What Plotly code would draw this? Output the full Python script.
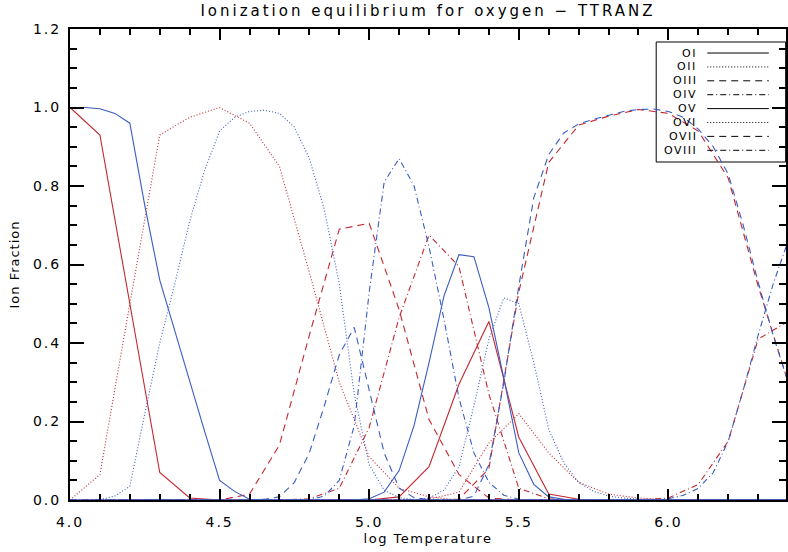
import plotly.graph_objects as go

# ---------------- data ----------------
temp_red = [4.0, 4.1, 4.2, 4.3, 4.4, 4.5, 4.6, 4.7, 4.8, 4.9,
            5.0, 5.1, 5.2, 5.3, 5.4, 5.5, 5.6, 5.7, 5.8, 5.9,
            6.0, 6.1, 6.2, 6.3, 6.4]

red_OI    = [1.0, 0.93, 0.50, 0.07, 0.005, 0, 0, 0, 0, 0,
             0, 0, 0, 0, 0, 0, 0, 0, 0, 0, 0, 0, 0, 0, 0]
red_OII   = [0, 0.065, 0.50, 0.93, 0.975, 1.0, 0.96, 0.85, 0.58, 0.30,
             0.11, 0.03, 0.008, 0, 0, 0, 0, 0, 0, 0, 0, 0, 0, 0, 0]
red_OIII  = [0, 0, 0, 0, 0, 0, 0.015, 0.14, 0.42, 0.69,
             0.705, 0.485, 0.205, 0.065, 0.005, 0, 0, 0, 0, 0, 0, 0, 0, 0, 0]
red_OIV   = [0, 0, 0, 0, 0, 0, 0, 0, 0.003, 0.03,
             0.185, 0.465, 0.675, 0.595, 0.27, 0.03, 0.003, 0, 0, 0, 0, 0, 0, 0, 0]
red_OV    = [0, 0, 0, 0, 0, 0, 0, 0, 0, 0,
             0, 0.008, 0.085, 0.295, 0.455, 0.16, 0.015, 0.002, 0, 0, 0, 0, 0, 0, 0]
red_OVI   = [0, 0, 0, 0, 0, 0, 0, 0, 0, 0,
             0, 0, 0.002, 0.02, 0.145, 0.22, 0.12, 0.045, 0.015, 0.005, 0.001, 0, 0, 0, 0]
red_OVII  = [0, 0, 0, 0, 0, 0, 0, 0, 0, 0,
             0, 0, 0, 0.002, 0.08, 0.53, 0.86, 0.955, 0.978, 0.995, 0.985, 0.94, 0.82, 0.545, 0.30]
red_OVIII = [0, 0, 0, 0, 0, 0, 0, 0, 0, 0,
             0, 0, 0, 0, 0, 0, 0, 0, 0, 0, 0.005, 0.04, 0.15, 0.41, 0.455]

temp_blue = [4.00, 4.05, 4.10, 4.15, 4.20, 4.25, 4.30, 4.35, 4.40, 4.45,
             4.50, 4.55, 4.60, 4.65, 4.70, 4.75, 4.80, 4.85, 4.90, 4.95,
             5.00, 5.05, 5.10, 5.15, 5.20, 5.25, 5.30, 5.35, 5.40, 5.45,
             5.50, 5.55, 5.60, 5.65, 5.70, 5.75, 5.80, 5.85, 5.90, 5.95,
             6.00, 6.05, 6.10, 6.15, 6.20, 6.25, 6.30, 6.35, 6.40]

blue_OI    = [1.0, 1.0, 0.997, 0.985, 0.96, 0.75, 0.56, 0.43, 0.30, 0.175,
              0.05, 0.022, 0.002, 0, 0, 0, 0, 0, 0, 0,
              0, 0, 0, 0, 0, 0, 0, 0, 0, 0,
              0, 0, 0, 0, 0, 0, 0, 0, 0, 0,
              0, 0, 0, 0, 0, 0, 0, 0, 0]
blue_OII   = [0, 0, 0.001, 0.01, 0.035, 0.22, 0.40, 0.55, 0.71, 0.84,
              0.94, 0.975, 0.99, 0.993, 0.985, 0.95, 0.87, 0.74, 0.55, 0.27,
              0.09, 0.025, 0.006, 0.001, 0, 0, 0, 0, 0, 0,
              0, 0, 0, 0, 0, 0, 0, 0, 0, 0,
              0, 0, 0, 0, 0, 0, 0, 0, 0]
blue_OIII  = [0, 0, 0, 0, 0, 0, 0, 0, 0, 0,
              0, 0, 0, 0.002, 0.008, 0.045, 0.12, 0.24, 0.37, 0.44,
              0.28, 0.12, 0.03, 0.006, 0.001, 0, 0, 0, 0, 0,
              0, 0, 0, 0, 0, 0, 0, 0, 0, 0,
              0, 0, 0, 0, 0, 0, 0, 0, 0]
blue_OIV   = [0, 0, 0, 0, 0, 0, 0, 0, 0, 0,
              0, 0, 0, 0, 0, 0, 0, 0.01, 0.05, 0.19,
              0.53, 0.81, 0.87, 0.80, 0.645, 0.46, 0.26, 0.12, 0.045, 0.012,
              0.002, 0, 0, 0, 0, 0, 0, 0, 0, 0,
              0, 0, 0, 0, 0, 0, 0, 0, 0]
blue_OV    = [0, 0, 0, 0, 0, 0, 0, 0, 0, 0,
              0, 0, 0, 0, 0, 0, 0, 0, 0, 0,
              0.003, 0.02, 0.075, 0.19, 0.35, 0.52, 0.625, 0.62, 0.49, 0.31,
              0.12, 0.04, 0.008, 0.002, 0, 0, 0, 0, 0, 0,
              0, 0, 0, 0, 0, 0, 0, 0, 0]
blue_OVI   = [0, 0, 0, 0, 0, 0, 0, 0, 0, 0,
              0, 0, 0, 0, 0, 0, 0, 0, 0, 0,
              0, 0, 0, 0, 0.005, 0.025, 0.085, 0.24, 0.41, 0.515,
              0.50, 0.35, 0.18, 0.095, 0.045, 0.022, 0.01, 0.005, 0.002, 0.001,
              0, 0, 0, 0, 0, 0, 0, 0, 0]
blue_OVII  = [0, 0, 0, 0, 0, 0, 0, 0, 0, 0,
              0, 0, 0, 0, 0, 0, 0, 0, 0, 0,
              0, 0, 0, 0, 0, 0, 0, 0.01, 0.09, 0.30,
              0.545, 0.77, 0.88, 0.935, 0.958, 0.97, 0.98, 0.99, 0.995, 0.996,
              0.99, 0.975, 0.945, 0.90, 0.83, 0.70, 0.555, 0.42, 0.30]
blue_OVIII = [0, 0, 0, 0, 0, 0, 0, 0, 0, 0,
              0, 0, 0, 0, 0, 0, 0, 0, 0, 0,
              0, 0, 0, 0, 0, 0, 0, 0, 0, 0,
              0, 0, 0, 0, 0, 0, 0, 0, 0, 0,
              0.003, 0.012, 0.03, 0.07, 0.15, 0.28, 0.42, 0.55, 0.66]

ions = ["OI", "OII", "OIII", "OIV", "OV", "OVI", "OVII", "OVIII"]
x_tick_vals = [4.0, 4.5, 5.0, 5.5, 6.0]
x_tick_labels = ["4.0", "4.5", "5.0", "5.5", "6.0"]
y_tick_vals = [0.0, 0.2, 0.4, 0.6, 0.8, 1.0, 1.2]
y_tick_labels = ["0.0", "0.2", "0.4", "0.6", "0.8", "1.0", "1.2"]

# ---------------- styles ----------------
DOT = "1px,2px"
DASH = "7px,5px"
DASHDOT = "6px,3px,1px,3px"
ion_dash = ["solid", DOT, DASH, DASHDOT, "solid", DOT, DASH, DASHDOT]
RED = "#c3262e"
BLUE = "#3a5cc4"
FONT = "DejaVu Sans"

red_series = [red_OI, red_OII, red_OIII, red_OIV, red_OV, red_OVI, red_OVII, red_OVIII]
blue_series = [blue_OI, blue_OII, blue_OIII, blue_OIV, blue_OV, blue_OVI, blue_OVII, blue_OVIII]


def spaced(t, ls):
    return f'<span style="letter-spacing:{ls}px">{t}</span>'


fig = go.Figure()
for name, ys, dash in zip(ions, red_series, ion_dash):
    fig.add_trace(go.Scatter(x=temp_red, y=ys, mode="lines", name=name + " (red)",
                             line=dict(color=RED, width=1.1, dash=dash), showlegend=False))
for name, ys, dash in zip(ions, blue_series, ion_dash):
    fig.add_trace(go.Scatter(x=temp_blue, y=ys, mode="lines", name=name + " (blue)",
                             line=dict(color=BLUE, width=1.1, dash=dash), showlegend=False))

# ---------------- legend drawn as box + annotations + line samples ----------------
L_LEFT, L_RIGHT, L_TOP, L_BOTTOM = 0.8187, 0.9995, 0.9724, 0.7176
row_top, row_step = 0.949, 0.0295
fig.add_shape(type="rect", xref="paper", yref="paper", x0=L_LEFT, x1=L_RIGHT,
              y0=L_BOTTOM, y1=L_TOP, line=dict(color="black", width=1), layer="below")
for i, (name, dash) in enumerate(zip(ions, ion_dash)):
    yy = row_top - i * row_step
    fig.add_annotation(xref="paper", yref="paper", x=0.877, y=yy, text=spaced(name, 1.5),
                       showarrow=False, xanchor="right", yanchor="middle",
                       font=dict(family=FONT, size=11, color="black"),
                       borderpad=0)
    fig.add_shape(type="line", xref="paper", yref="paper", x0=0.890, x1=0.976,
                  y0=yy, y1=yy, line=dict(color="black", width=1, dash=dash))

axis_common = dict(showline=True, linecolor="black", linewidth=2, mirror="ticks",
                   ticks="inside", tickcolor="black", tickwidth=1.5,
                   showgrid=False, zeroline=False,
                   tickfont=dict(family=FONT, size=14, color="black"))

fig.update_layout(
    width=788, height=552,
    margin=dict(l=70, r=0, t=29, b=52),
    paper_bgcolor="white", plot_bgcolor="white",
    title=dict(text=spaced("Ionization equilibrium for oxygen − TTRANZ", 3),
               xref="paper", x=0.5, xanchor="center",
               yref="container", y=1 - 11 / 552, yanchor="middle",
               font=dict(family=FONT, size=15, color="black")),
    xaxis=dict(range=[4.0, 6.393], tickmode="array", tickvals=x_tick_vals,
               ticktext=[spaced(t, 2) for t in x_tick_labels], ticklen=11,
               ticklabelstandoff=8,
               minor=dict(tickmode="linear", tick0=4.0, dtick=0.1, ticks="inside",
                          ticklen=6, tickwidth=1.5, tickcolor="black"),
               title=dict(text=spaced("log Temperature", 1.5), standoff=5,
                          font=dict(family=FONT, size=13, color="black")),
               **axis_common),
    yaxis=dict(range=[0.0, 1.2], tickmode="array", tickvals=y_tick_vals,
               ticktext=[spaced(t, 2) for t in y_tick_labels], ticklen=14,
               ticklabelstandoff=4,
               minor=dict(tickmode="linear", tick0=0.0, dtick=0.05, ticks="inside",
                          ticklen=7, tickwidth=1.5, tickcolor="black"),
               title=dict(text=spaced("Ion Fraction", 1), standoff=10,
                          font=dict(family=FONT, size=13, color="black")),
               **axis_common),
)

fig.write_html("out.html")
